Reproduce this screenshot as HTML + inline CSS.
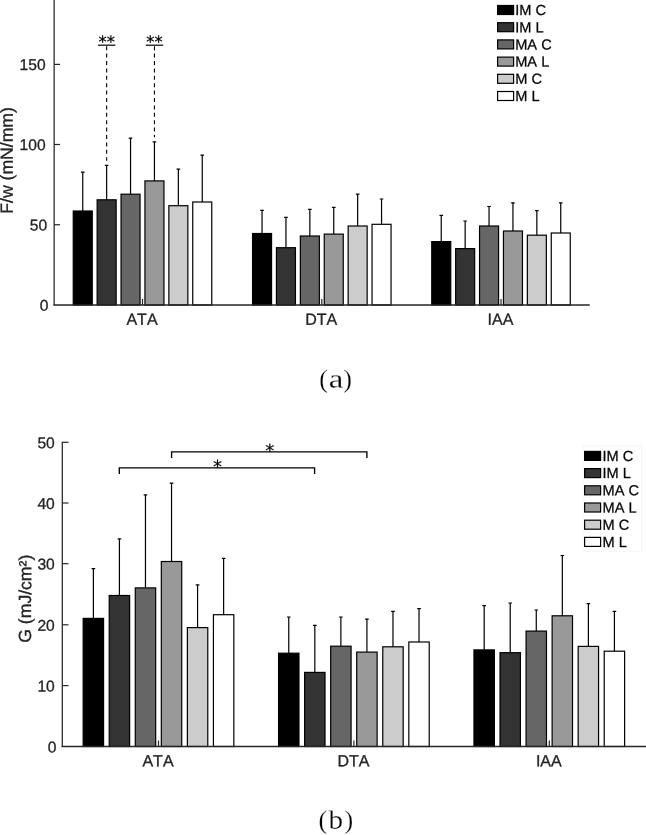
<!DOCTYPE html>
<html lang="en"><head><meta charset="utf-8"><title>Figure: F/w and G by region</title>
<style>
html,body{margin:0;padding:0;background:#fff;}
svg{display:block;will-change:transform;}
text{font-kerning:none;text-rendering:geometricPrecision;}
.s{font-family:"Liberation Sans", Arial, Helvetica, sans-serif;}
.r{font-family:"Liberation Serif", "Times New Roman", serif;stroke:#fff;stroke-width:0.22px;}
.d{font-family:"DejaVu Sans", sans-serif;}
.t{stroke:#1a1a1a;stroke-width:0.3px;}
.a{stroke:#000;stroke-width:0.2px;}
</style>
</head><body>
<svg width="646" height="835" viewBox="0 0 646 835">
<rect width="646" height="835" fill="#fff"/>
<!-- chart (a): F/w -->
<rect x="73.25" y="211.00" width="19.00" height="94.00" fill="#000000" stroke="#000" stroke-width="1.2"/>
<path d="M82.75 211.00V172.20M80.95 172.20h3.6" stroke="#000" stroke-width="1.2" fill="none"/>
<rect x="97.15" y="199.80" width="19.00" height="105.20" fill="#333333" stroke="#000" stroke-width="1.2"/>
<path d="M106.65 199.80V165.30M104.85 165.30h3.6" stroke="#000" stroke-width="1.2" fill="none"/>
<rect x="121.05" y="194.20" width="19.00" height="110.80" fill="#666666" stroke="#000" stroke-width="1.2"/>
<path d="M130.55 194.20V138.10M128.75 138.10h3.6" stroke="#000" stroke-width="1.2" fill="none"/>
<rect x="144.95" y="180.90" width="19.00" height="124.10" fill="#999999" stroke="#000" stroke-width="1.2"/>
<path d="M154.45 180.90V141.80M152.65 141.80h3.6" stroke="#000" stroke-width="1.2" fill="none"/>
<rect x="168.85" y="205.70" width="19.00" height="99.30" fill="#cccccc" stroke="#000" stroke-width="1.2"/>
<path d="M178.35 205.70V169.20M176.55 169.20h3.6" stroke="#000" stroke-width="1.2" fill="none"/>
<rect x="192.75" y="202.00" width="19.00" height="103.00" fill="#ffffff" stroke="#000" stroke-width="1.2"/>
<path d="M202.25 202.00V155.20M200.45 155.20h3.6" stroke="#000" stroke-width="1.2" fill="none"/>
<rect x="252.55" y="233.50" width="19.00" height="71.50" fill="#000000" stroke="#000" stroke-width="1.2"/>
<path d="M262.05 233.50V210.40M260.25 210.40h3.6" stroke="#000" stroke-width="1.2" fill="none"/>
<rect x="276.45" y="247.70" width="19.00" height="57.30" fill="#333333" stroke="#000" stroke-width="1.2"/>
<path d="M285.95 247.70V217.40M284.15 217.40h3.6" stroke="#000" stroke-width="1.2" fill="none"/>
<rect x="300.35" y="236.00" width="19.00" height="69.00" fill="#666666" stroke="#000" stroke-width="1.2"/>
<path d="M309.85 236.00V209.30M308.05 209.30h3.6" stroke="#000" stroke-width="1.2" fill="none"/>
<rect x="324.25" y="234.10" width="19.00" height="70.90" fill="#999999" stroke="#000" stroke-width="1.2"/>
<path d="M333.75 234.10V207.30M331.95 207.30h3.6" stroke="#000" stroke-width="1.2" fill="none"/>
<rect x="348.15" y="226.00" width="19.00" height="79.00" fill="#cccccc" stroke="#000" stroke-width="1.2"/>
<path d="M357.65 226.00V194.20M355.85 194.20h3.6" stroke="#000" stroke-width="1.2" fill="none"/>
<rect x="372.05" y="224.30" width="19.00" height="80.70" fill="#ffffff" stroke="#000" stroke-width="1.2"/>
<path d="M381.55 224.30V199.00M379.75 199.00h3.6" stroke="#000" stroke-width="1.2" fill="none"/>
<rect x="431.75" y="241.60" width="19.00" height="63.40" fill="#000000" stroke="#000" stroke-width="1.2"/>
<path d="M441.25 241.60V215.40M439.45 215.40h3.6" stroke="#000" stroke-width="1.2" fill="none"/>
<rect x="455.65" y="248.60" width="19.00" height="56.40" fill="#333333" stroke="#000" stroke-width="1.2"/>
<path d="M465.15 248.60V221.00M463.35 221.00h3.6" stroke="#000" stroke-width="1.2" fill="none"/>
<rect x="479.55" y="226.00" width="19.00" height="79.00" fill="#666666" stroke="#000" stroke-width="1.2"/>
<path d="M489.05 226.00V206.50M487.25 206.50h3.6" stroke="#000" stroke-width="1.2" fill="none"/>
<rect x="503.45" y="231.00" width="19.00" height="74.00" fill="#999999" stroke="#000" stroke-width="1.2"/>
<path d="M512.95 231.00V202.90M511.15 202.90h3.6" stroke="#000" stroke-width="1.2" fill="none"/>
<rect x="527.35" y="235.20" width="19.00" height="69.80" fill="#cccccc" stroke="#000" stroke-width="1.2"/>
<path d="M536.85 235.20V210.70M535.05 210.70h3.6" stroke="#000" stroke-width="1.2" fill="none"/>
<rect x="551.25" y="233.00" width="19.00" height="72.00" fill="#ffffff" stroke="#000" stroke-width="1.2"/>
<path d="M560.75 233.00V202.90M558.95 202.90h3.6" stroke="#000" stroke-width="1.2" fill="none"/>
<path d="M54.15 0V305.5" stroke="#262626" stroke-width="1.25" fill="none"/>
<path d="M53.55 305.1H589.7" stroke="#262626" stroke-width="1.5" fill="none"/>
<text class="s t" x="48.45" y="310.65" transform="rotate(0.05 48.45 310.65)" font-size="15.6" text-anchor="end" fill="#262626">0</text>
<path d="M54.0 224.75h6" stroke="#262626" stroke-width="1.2"/>
<text class="s t" x="47.20" y="230.40" transform="rotate(0.05 47.20 230.40)" font-size="15.6" text-anchor="end" fill="#262626">50</text>
<path d="M54.0 144.5h6" stroke="#262626" stroke-width="1.2"/>
<text class="s t" x="45.60" y="150.15" transform="rotate(0.05 45.60 150.15)" font-size="15.6" text-anchor="end" fill="#262626">100</text>
<path d="M54.0 64.4h6" stroke="#262626" stroke-width="1.2"/>
<text class="s t" x="45.60" y="70.05" transform="rotate(0.05 45.60 70.05)" font-size="15.6" text-anchor="end" fill="#262626">150</text>
<path d="M142.5 305.0v-6" stroke="#262626" stroke-width="1.2"/>
<text class="s t" x="142.00" y="324.70" transform="rotate(0.05 142.00 324.70)" font-size="16" text-anchor="middle" fill="#262626">ATA</text>
<path d="M321.8 305.0v-6" stroke="#262626" stroke-width="1.2"/>
<text class="s t" x="321.30" y="324.70" transform="rotate(0.05 321.30 324.70)" font-size="16" text-anchor="middle" fill="#262626">DTA</text>
<path d="M501.0 305.0v-6" stroke="#262626" stroke-width="1.2"/>
<text class="s t" x="500.50" y="324.70" transform="rotate(0.05 500.50 324.70)" font-size="16" text-anchor="middle" fill="#262626">IAA</text>
<text class="s t" x="12.80" y="213.70" transform="rotate(-89.95 12.80 213.70)" font-size="17.6" fill="#262626">F/w (mN/mm)</text>
<path d="M106.65 46.2V160.80" stroke="#000" stroke-width="1.1" stroke-dasharray="4 3.4" fill="none"/>
<path d="M97.95 45.2h17.4" stroke="#000" stroke-width="1.2"/>
<text class="d a" x="106.65" y="47.50" transform="rotate(0.05 106.65 47.50)" font-size="16.4" text-anchor="middle" fill="#000">**</text>
<path d="M154.45 46.2V137.30" stroke="#000" stroke-width="1.1" stroke-dasharray="4 3.4" fill="none"/>
<path d="M145.75 45.2h17.4" stroke="#000" stroke-width="1.2"/>
<text class="d a" x="154.45" y="47.50" transform="rotate(0.05 154.45 47.50)" font-size="16.4" text-anchor="middle" fill="#000">**</text>
<rect x="497.60" y="5.50" width="16" height="9" fill="#000000" stroke="#000" stroke-width="1.2"/>
<text class="s t" x="515.20" y="15.00" transform="rotate(0.05 515.20 15.00)" font-size="14.6" fill="#000">IM C</text>
<rect x="497.60" y="22.70" width="16" height="9" fill="#333333" stroke="#000" stroke-width="1.2"/>
<text class="s t" x="515.20" y="32.20" transform="rotate(0.05 515.20 32.20)" font-size="14.6" fill="#000">IM L</text>
<rect x="497.60" y="39.90" width="16" height="9" fill="#666666" stroke="#000" stroke-width="1.2"/>
<text class="s t" x="515.20" y="49.40" transform="rotate(0.05 515.20 49.40)" font-size="14.6" fill="#000">MA C</text>
<rect x="497.60" y="57.10" width="16" height="9" fill="#999999" stroke="#000" stroke-width="1.2"/>
<text class="s t" x="515.20" y="66.60" transform="rotate(0.05 515.20 66.60)" font-size="14.6" fill="#000">MA L</text>
<rect x="497.60" y="74.30" width="16" height="9" fill="#cccccc" stroke="#000" stroke-width="1.2"/>
<text class="s t" x="515.20" y="83.80" transform="rotate(0.05 515.20 83.80)" font-size="14.6" fill="#000">M C</text>
<rect x="497.60" y="91.50" width="16" height="9" fill="#ffffff" stroke="#000" stroke-width="1.2"/>
<text class="s t" x="515.20" y="101.00" transform="rotate(0.05 515.20 101.00)" font-size="14.6" fill="#000">M L</text>
<text class="r" y="387.5" font-size="26" fill="#000" transform="rotate(0.05 335 387.5)"><tspan x="319.2">(</tspan><tspan x="328.8" textLength="14.6" lengthAdjust="spacingAndGlyphs">a</tspan><tspan x="343.2">)</tspan></text>
<!-- chart (b): G -->
<rect x="83.17" y="618.40" width="20.40" height="128.10" fill="#000000" stroke="#000" stroke-width="1.2"/>
<path d="M93.38 618.40V568.70M91.58 568.70h3.6" stroke="#000" stroke-width="1.2" fill="none"/>
<rect x="109.22" y="595.50" width="20.40" height="151.00" fill="#333333" stroke="#000" stroke-width="1.2"/>
<path d="M119.42 595.50V538.90M117.62 538.90h3.6" stroke="#000" stroke-width="1.2" fill="none"/>
<rect x="135.28" y="587.90" width="20.40" height="158.60" fill="#666666" stroke="#000" stroke-width="1.2"/>
<path d="M145.47 587.90V494.90M143.67 494.90h3.6" stroke="#000" stroke-width="1.2" fill="none"/>
<rect x="161.33" y="561.50" width="20.40" height="185.00" fill="#999999" stroke="#000" stroke-width="1.2"/>
<path d="M171.53 561.50V483.20M169.72 483.20h3.6" stroke="#000" stroke-width="1.2" fill="none"/>
<rect x="187.38" y="627.60" width="20.40" height="118.90" fill="#cccccc" stroke="#000" stroke-width="1.2"/>
<path d="M197.57 627.60V584.90M195.77 584.90h3.6" stroke="#000" stroke-width="1.2" fill="none"/>
<rect x="213.43" y="614.70" width="20.40" height="131.80" fill="#ffffff" stroke="#000" stroke-width="1.2"/>
<path d="M223.62 614.70V558.40M221.82 558.40h3.6" stroke="#000" stroke-width="1.2" fill="none"/>
<rect x="278.57" y="653.20" width="20.40" height="93.30" fill="#000000" stroke="#000" stroke-width="1.2"/>
<path d="M288.77 653.20V617.00M286.97 617.00h3.6" stroke="#000" stroke-width="1.2" fill="none"/>
<rect x="304.62" y="672.40" width="20.40" height="74.10" fill="#333333" stroke="#000" stroke-width="1.2"/>
<path d="M314.82 672.40V625.30M313.02 625.30h3.6" stroke="#000" stroke-width="1.2" fill="none"/>
<rect x="330.68" y="646.20" width="20.40" height="100.30" fill="#666666" stroke="#000" stroke-width="1.2"/>
<path d="M340.88 646.20V617.00M339.07 617.00h3.6" stroke="#000" stroke-width="1.2" fill="none"/>
<rect x="356.72" y="652.10" width="20.40" height="94.40" fill="#999999" stroke="#000" stroke-width="1.2"/>
<path d="M366.92 652.10V619.20M365.12 619.20h3.6" stroke="#000" stroke-width="1.2" fill="none"/>
<rect x="382.77" y="646.80" width="20.40" height="99.70" fill="#cccccc" stroke="#000" stroke-width="1.2"/>
<path d="M392.97 646.80V611.40M391.17 611.40h3.6" stroke="#000" stroke-width="1.2" fill="none"/>
<rect x="408.82" y="642.00" width="20.40" height="104.50" fill="#ffffff" stroke="#000" stroke-width="1.2"/>
<path d="M419.02 642.00V608.60M417.22 608.60h3.6" stroke="#000" stroke-width="1.2" fill="none"/>
<rect x="473.97" y="649.90" width="20.40" height="96.60" fill="#000000" stroke="#000" stroke-width="1.2"/>
<path d="M484.17 649.90V605.60M482.37 605.60h3.6" stroke="#000" stroke-width="1.2" fill="none"/>
<rect x="500.02" y="652.70" width="20.40" height="93.80" fill="#333333" stroke="#000" stroke-width="1.2"/>
<path d="M510.22 652.70V603.00M508.42 603.00h3.6" stroke="#000" stroke-width="1.2" fill="none"/>
<rect x="526.07" y="631.10" width="20.40" height="115.40" fill="#666666" stroke="#000" stroke-width="1.2"/>
<path d="M536.27 631.10V610.00M534.48 610.00h3.6" stroke="#000" stroke-width="1.2" fill="none"/>
<rect x="552.12" y="615.80" width="20.40" height="130.70" fill="#999999" stroke="#000" stroke-width="1.2"/>
<path d="M562.32 615.80V555.50M560.52 555.50h3.6" stroke="#000" stroke-width="1.2" fill="none"/>
<rect x="578.17" y="646.40" width="20.40" height="100.10" fill="#cccccc" stroke="#000" stroke-width="1.2"/>
<path d="M588.38 646.40V603.60M586.58 603.60h3.6" stroke="#000" stroke-width="1.2" fill="none"/>
<rect x="604.22" y="651.20" width="20.40" height="95.30" fill="#ffffff" stroke="#000" stroke-width="1.2"/>
<path d="M614.42 651.20V611.30M612.62 611.30h3.6" stroke="#000" stroke-width="1.2" fill="none"/>
<path d="M62.3 441.7V747.0" stroke="#262626" stroke-width="1.25" fill="none"/>
<path d="M61.7 746.6H646" stroke="#262626" stroke-width="1.5" fill="none"/>
<text class="s t" x="56.55" y="752.40" transform="rotate(0.05 56.55 752.40)" font-size="15.6" text-anchor="end" fill="#262626">0</text>
<path d="M62.5 685.6h6" stroke="#262626" stroke-width="1.2"/>
<text class="s t" x="54.80" y="691.50" transform="rotate(0.05 54.80 691.50)" font-size="15.6" text-anchor="end" fill="#262626">10</text>
<path d="M62.5 624.8h6" stroke="#262626" stroke-width="1.2"/>
<text class="s t" x="54.80" y="630.70" transform="rotate(0.05 54.80 630.70)" font-size="15.6" text-anchor="end" fill="#262626">20</text>
<path d="M62.5 563.7h6" stroke="#262626" stroke-width="1.2"/>
<text class="s t" x="54.80" y="569.60" transform="rotate(0.05 54.80 569.60)" font-size="15.6" text-anchor="end" fill="#262626">30</text>
<path d="M62.5 503.0h6" stroke="#262626" stroke-width="1.2"/>
<text class="s t" x="54.80" y="508.90" transform="rotate(0.05 54.80 508.90)" font-size="15.6" text-anchor="end" fill="#262626">40</text>
<path d="M62.5 442.3h6" stroke="#262626" stroke-width="1.2"/>
<text class="s t" x="54.80" y="448.20" transform="rotate(0.05 54.80 448.20)" font-size="15.6" text-anchor="end" fill="#262626">50</text>
<path d="M158.5 746.5v-6" stroke="#262626" stroke-width="1.2"/>
<text class="s t" x="158.00" y="766.20" transform="rotate(0.05 158.00 766.20)" font-size="16" text-anchor="middle" fill="#262626">ATA</text>
<path d="M353.9 746.5v-6" stroke="#262626" stroke-width="1.2"/>
<text class="s t" x="353.40" y="766.20" transform="rotate(0.05 353.40 766.20)" font-size="16" text-anchor="middle" fill="#262626">DTA</text>
<path d="M549.3 746.5v-6" stroke="#262626" stroke-width="1.2"/>
<text class="s t" x="548.80" y="766.20" transform="rotate(0.05 548.80 766.20)" font-size="16" text-anchor="middle" fill="#262626">IAA</text>
<text class="s t" x="31.10" y="642.70" transform="rotate(-89.95 31.10 642.70)" font-size="17.6" fill="#262626">G (mJ/cm²)</text>
<path d="M171.6 458.0V451.8H366.9V458.0" stroke="#000" stroke-width="1.35" fill="none"/>
<path d="M119.3 473.9V467.8H314.6V473.9" stroke="#000" stroke-width="1.35" fill="none"/>
<text class="d a" x="269.70" y="457.10" transform="rotate(0.05 269.70 457.10)" font-size="18" text-anchor="middle" fill="#000">*</text>
<text class="d a" x="217.60" y="473.10" transform="rotate(0.05 217.60 473.10)" font-size="18" text-anchor="middle" fill="#000">*</text>
<rect x="583" y="446" width="58.5" height="105.3" fill="none" stroke="#f6f6f6" stroke-width="1"/>
<rect x="584.60" y="451.40" width="16" height="9" fill="#000000" stroke="#000" stroke-width="1.2"/>
<text class="s t" x="602.50" y="460.90" transform="rotate(0.05 602.50 460.90)" font-size="14.6" fill="#000">IM C</text>
<rect x="584.60" y="468.60" width="16" height="9" fill="#333333" stroke="#000" stroke-width="1.2"/>
<text class="s t" x="602.50" y="478.10" transform="rotate(0.05 602.50 478.10)" font-size="14.6" fill="#000">IM L</text>
<rect x="584.60" y="485.80" width="16" height="9" fill="#666666" stroke="#000" stroke-width="1.2"/>
<text class="s t" x="602.50" y="495.30" transform="rotate(0.05 602.50 495.30)" font-size="14.6" fill="#000">MA C</text>
<rect x="584.60" y="503.00" width="16" height="9" fill="#999999" stroke="#000" stroke-width="1.2"/>
<text class="s t" x="602.50" y="512.50" transform="rotate(0.05 602.50 512.50)" font-size="14.6" fill="#000">MA L</text>
<rect x="584.60" y="520.20" width="16" height="9" fill="#cccccc" stroke="#000" stroke-width="1.2"/>
<text class="s t" x="602.50" y="529.70" transform="rotate(0.05 602.50 529.70)" font-size="14.6" fill="#000">M C</text>
<rect x="584.60" y="537.40" width="16" height="9" fill="#ffffff" stroke="#000" stroke-width="1.2"/>
<text class="s t" x="602.50" y="546.90" transform="rotate(0.05 602.50 546.90)" font-size="14.6" fill="#000">M L</text>
<text class="r" y="828.6" font-size="26" fill="#000" transform="rotate(0.05 336 828.6)"><tspan x="318.6">(</tspan><tspan x="328.6" textLength="14.6" lengthAdjust="spacingAndGlyphs">b</tspan><tspan x="344.6">)</tspan></text>
</svg>
</body></html>
